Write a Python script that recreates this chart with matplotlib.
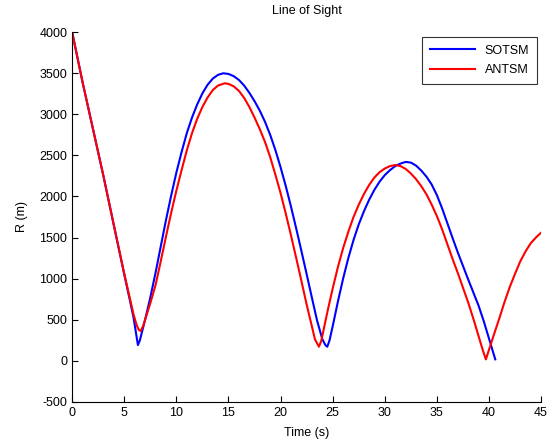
import matplotlib
matplotlib.use('Agg')
import matplotlib.pyplot as plt

plt.rcParams['font.family'] = ['Liberation Sans', 'DejaVu Sans']
plt.rcParams['axes.unicode_minus'] = False

# SOTSM (blue)
t_sotsm = [0, 1, 2, 3, 4, 5, 5.5, 5.9, 6.1, 6.31, 6.5, 6.8, 7.0, 7.5, 8.0, 8.5, 9.0, 9.5,
           10.0, 10.5, 11.0, 11.5, 12.0, 12.5, 13.0, 13.5, 14.0, 14.5, 15.0, 15.5, 16.0,
           16.5, 17.0, 17.5, 18.0, 18.5, 19.0, 19.5, 20.0, 20.5, 21.0, 21.5, 22.0, 22.5,
           23.0, 23.5, 24.0, 24.3, 24.48, 24.7, 25.0, 25.5, 26.0, 26.5, 27.0, 27.5, 28.0,
           28.5, 29.0, 29.5, 30.0, 30.5, 31.0, 31.5, 32.0, 32.5, 33.0, 33.5, 34.0, 34.5,
           35.0, 35.5, 36.0, 36.5, 37.0, 37.5, 38.0, 38.5, 39.0, 39.5, 40.0, 40.6]
r_sotsm = [4000, 3390, 2820, 2250, 1650, 1050, 760, 520, 360, 191, 250, 400, 500, 770,
           1070, 1390, 1710, 2010, 2290, 2540, 2770, 2960, 3120, 3255, 3360, 3435, 3480,
           3499, 3491, 3464, 3418, 3350, 3262, 3160, 3045, 2910, 2750, 2565, 2355, 2125,
           1875, 1610, 1335, 1055, 770, 490, 265, 190, 171, 250, 420, 720, 1000, 1250,
           1470, 1660, 1820, 1960, 2080, 2180, 2260, 2320, 2370, 2400, 2420, 2412, 2375,
           2315, 2240, 2145, 2015, 1855, 1675, 1495, 1320, 1155, 990, 830, 670, 480, 270, 17]

# ANTSM (red)
t_antsm = [0, 1, 2, 3, 4, 5, 5.5, 5.9, 6.2, 6.4, 6.57, 6.8, 7.0, 7.5, 8.0, 8.5, 9.0, 9.5,
           10.0, 10.5, 11.0, 11.5, 12.0, 12.5, 13.0, 13.5, 14.0, 14.64, 15.0, 15.5, 16.0,
           16.5, 17.0, 17.5, 18.0, 18.5, 19.0, 19.5, 20.0, 20.5, 21.0, 21.5, 22.0, 22.5,
           23.0, 23.3, 23.68, 23.9, 24.2, 24.5, 25.0, 25.5, 26.0, 26.5, 27.0, 27.5, 28.0,
           28.5, 29.0, 29.5, 30.0, 30.5, 31.0, 31.5, 32.0, 32.5, 33.0, 33.5, 34.0, 34.5,
           35.0, 35.5, 36.0, 36.5, 37.0, 37.5, 38.0, 38.5, 39.0, 39.4, 39.7, 40.0, 40.5,
           41.0, 41.5, 42.0, 42.5, 43.0, 43.5, 44.0, 44.5, 45.0]
r_antsm = [4000, 3390, 2820, 2250, 1650, 1060, 780, 560, 430, 375, 362, 420, 500, 700,
           920, 1210, 1510, 1800, 2070, 2320, 2560, 2770, 2945, 3090, 3205, 3295, 3350,
           3377, 3370, 3340, 3285, 3200, 3090, 2960, 2820, 2665, 2480, 2265, 2040, 1790,
           1525, 1250, 970, 685, 420, 260, 171, 240, 420, 600, 880, 1140, 1370, 1570, 1750,
           1900, 2030, 2140, 2230, 2295, 2340, 2370, 2382, 2370, 2335, 2280, 2210, 2125,
           2025, 1900, 1760, 1600, 1420, 1240, 1070, 890, 710, 510, 300, 130, 17, 135,
           330, 520, 720, 900, 1060, 1210, 1330, 1430, 1500, 1560]

x_ticks = [0, 5, 10, 15, 20, 25, 30, 35, 40, 45]
y_ticks = [-500, 0, 500, 1000, 1500, 2000, 2500, 3000, 3500, 4000]

fig = plt.figure(figsize=(5.55, 4.46), dpi=100)
ax = fig.add_axes([0.130, 0.099, 0.845, 0.829])

ax.plot(t_sotsm, r_sotsm, color='#0000ff', lw=1.5, label='SOTSM')
ax.plot(t_antsm, r_antsm, color='#ff0000', lw=1.5, label='ANTSM')

ax.set_xlim(0, 45)
ax.set_ylim(-500, 4000)
ax.set_xticks(x_ticks)
ax.set_yticks(y_ticks)
ax.tick_params(direction='in', length=4, width=0.8, labelsize=9, colors='black')
for s in ['top', 'right']:
    ax.spines[s].set_visible(False)
for s in ['left', 'bottom']:
    ax.spines[s].set_linewidth(0.8)

ax.set_xlabel('Time (s)', fontsize=9, labelpad=6)
ax.set_ylabel('R (m)', fontsize=9, labelpad=8)
ax.set_title('Line of Sight', fontsize=9, pad=13)

leg = ax.legend(loc='upper right', fontsize=9, frameon=True, fancybox=False,
                edgecolor='black', handlelength=3.6, borderpad=0.6, labelspacing=0.6,
                borderaxespad=0, bbox_to_anchor=(0.991, 0.986))
leg.get_frame().set_linewidth(0.8)

fig.savefig('out.png', dpi=100)
